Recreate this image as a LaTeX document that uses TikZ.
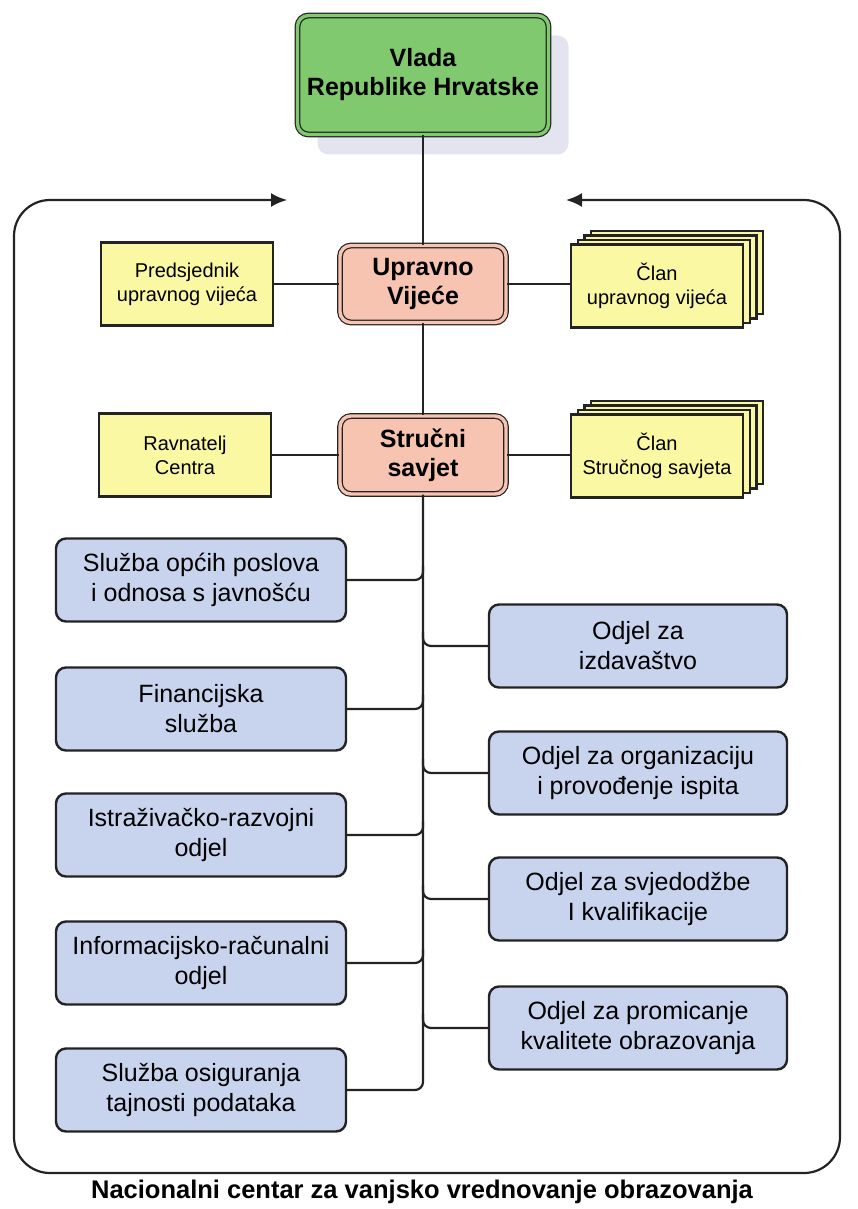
\documentclass[tikz,border=0pt]{standalone}
\usepackage{fontspec}
\setmainfont{Liberation Sans}
\usetikzlibrary{arrows.meta,calc,shadows}
\definecolor{vladagreen}{RGB}{128,201,110}
\definecolor{vijecepink}{RGB}{246,196,176}
\definecolor{clanyellow}{RGB}{250,248,162}
\definecolor{odjelblue}{RGB}{200,212,238}
\definecolor{sjena}{RGB}{228,228,240}
\definecolor{crta}{RGB}{35,35,35}
\begin{document}
\begin{tikzpicture}[x=1pt, y=-1pt,
  dbl/.style={draw=crta, line width=1.2pt, double=#1, double distance=3.4pt, rounded corners=11pt, fill=#1, align=center, font=\fontsize{25}{29}\selectfont\bfseries},
  clan/.style={draw=crta, line width=2.4pt, fill=clanyellow, align=center, minimum width=172pt, minimum height=83pt, font=\fontsize{20}{24}\selectfont},
  clanstack/.style={clan,
    copy shadow={shadow xshift=20pt, shadow yshift=13.5pt, fill=clanyellow, draw=crta, line width=2.2pt},
    copy shadow={shadow xshift=13.4pt, shadow yshift=9pt, fill=clanyellow, draw=crta, line width=2.2pt},
    copy shadow={shadow xshift=6.7pt, shadow yshift=4.5pt, fill=clanyellow, draw=crta, line width=2.2pt}},
  odjel/.style={draw=crta, line width=2.4pt, fill=odjelblue, rounded corners=10pt, align=center, minimum height=83pt, font=\fontsize{25}{30}\selectfont},
  conn/.style={draw=crta, line width=2.2pt}]
\useasboundingbox (0,0) rectangle (857,1209);
% okvir centra
\draw[conn, {Latex[length=16pt,width=14pt]}-{Latex[length=16pt,width=14pt]}, rounded corners=36pt] (287,200) -- (14,200) -- (14,1173) -- (840,1173) -- (840,200) -- (566,200);
\node[dbl=vladagreen, minimum width=251pt, minimum height=119pt, general shadow={shadow xshift=20pt, shadow yshift=-20pt, fill=sjena}] (vlada) at (423,75) {Vlada\\Republike Hrvatske};
\node[dbl=vijecepink, minimum width=166pt, minimum height=77pt] (upravno) at (423,284) {Upravno\\Vijeće};
\node[clan] (predsjednik) at (187,284) {Predsjednik\\upravnog vijeća};
\node[clanstack] (clanUV) at (657,286) {Član\\upravnog vijeća};
\node[dbl=vijecepink, minimum width=166pt, minimum height=78pt] (strucni) at (423,455) {Stručni\\savjet};
\node[clan] (ravnatelj) at (185,455) {Ravnatelj\\Centra};
\node[clanstack] (clanSS) at (657,456) {Član\\Stručnog savjeta};
% sluzbe i odjeli
\foreach \i/\y/\txt in {1/580/{Služba općih poslova\\i odnosa s javnošću}, 2/709/{Financijska\\služba}, 3/835/{Istraživačko-razvojni\\odjel}, 4/963/{Informacijsko-računalni\\odjel}, 5/1090/{Služba osiguranja\\tajnosti podataka}}
  \node[odjel, minimum width=290pt] (lijevo\i) at (201,\y) {\txt};
\foreach \i/\y/\txt in {1/646/{Odjel za\\izdavaštvo}, 2/773/{Odjel za organizaciju\\i provođenje ispita}, 3/899/{Odjel za svjedodžbe\\I kvalifikacije}, 4/1028/{Odjel za promicanje\\kvalitete obrazovanja}}
  \node[odjel, minimum width=298pt] (desno\i) at (638,\y) {\txt};
\draw[conn] (vlada) -- (upravno);
\draw[conn] (upravno) -- (strucni);
\draw[conn] (predsjednik) -- (upravno);
\draw[conn] (upravno.east) -- (upravno.east -| clanUV.west);
\draw[conn] (ravnatelj) -- (strucni);
\draw[conn] (strucni.east) -- (strucni.east -| clanSS.west);
\foreach \i in {1,...,4}
  \draw[conn, rounded corners=8pt] (lijevo\i.east) -| ($(strucni.south |- lijevo\i.east)+(0,-14)$);
\draw[conn, rounded corners=8pt] (lijevo5.east) -| (strucni.south);
\foreach \i in {1,...,4}
  \draw[conn, rounded corners=8pt] ($(strucni.south |- desno\i.west)+(0,-14)$) |- (desno\i.west);
\node[anchor=base, font=\fontsize{25.5}{30}\selectfont\bfseries] (naslov) at (422,1198) {Nacionalni centar za vanjsko vrednovanje obrazovanja};
\end{tikzpicture}
\end{document}
